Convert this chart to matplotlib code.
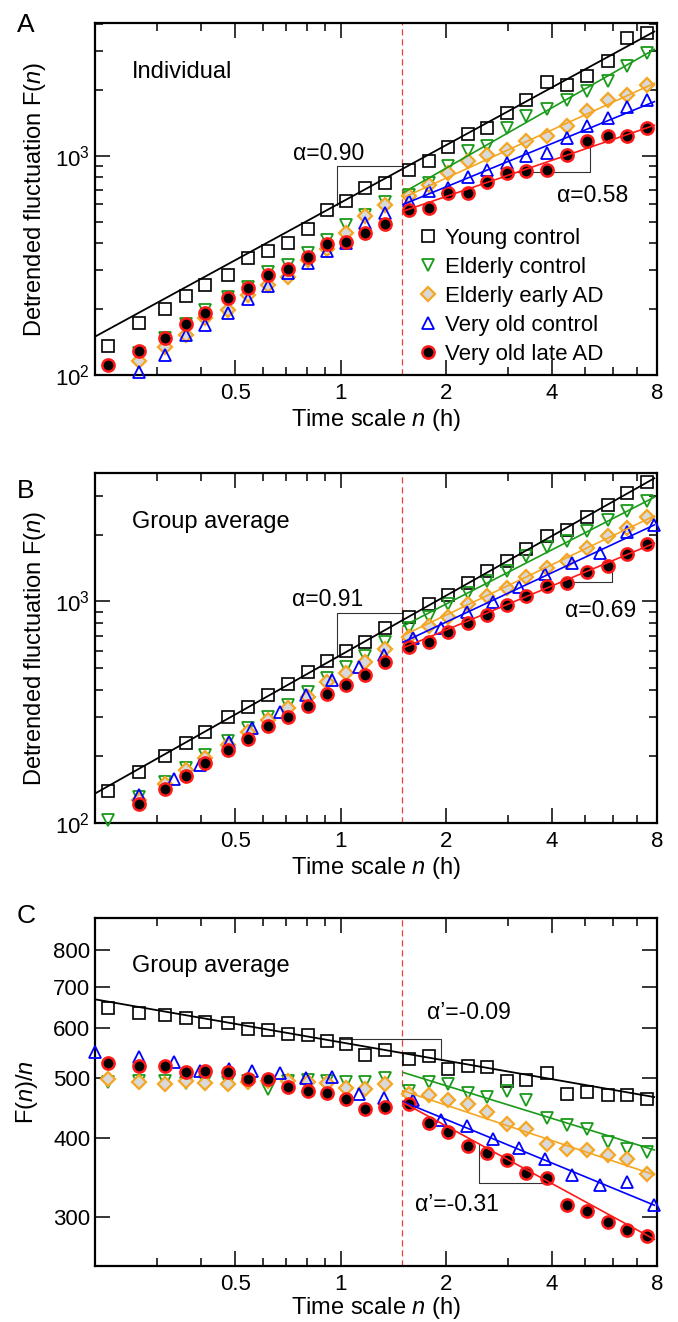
import numpy as np
import matplotlib
matplotlib.use("Agg")
import matplotlib.pyplot as plt
from matplotlib.ticker import FixedLocator, FixedFormatter, NullFormatter, NullLocator, LogLocator, LogFormatterSciNotation

plt.rcParams['font.family'] = ['Liberation Sans', 'DejaVu Sans']
plt.rcParams['mathtext.fontset'] = 'custom'
plt.rcParams['mathtext.rm'] = 'Liberation Sans'
plt.rcParams['mathtext.it'] = 'Liberation Sans:italic'
plt.rcParams['mathtext.default'] = 'regular'

# ---------------- data ----------------
n_grid = [0.217, 0.266, 0.316, 0.361, 0.411, 0.477, 0.545, 0.621, 0.707, 0.805, 0.917, 1.033, 1.176, 1.34,
          1.563, 1.784, 2.02, 2.31, 2.62, 2.99, 3.39, 3.87, 4.43, 5.06, 5.81, 6.56, 7.49]
n_blue = [0.199, 0.265, 0.334, 0.398, 0.479, 0.557, 0.670, 0.797, 0.947, 1.125, 1.33, 1.605, 1.934, 2.29,
          2.72, 3.24, 3.83, 4.59, 5.50, 6.56, 7.86]

labels = ['Young control', 'Elderly control', 'Elderly early AD', 'Very old control', 'Very old late AD']

# Panel A (individual)
A_young = [135.7, 173, 201, 229.5, 256, 287, 341, 366, 402, 462, 563, 619, 711, 750, 863, 949, 1091, 1256,
           1337, 1566, 1790, 2163, 2103, 2303, 2697, 3443, 3631]
A_green = [np.nan, 125.6, 147, 170.5, 198, 228, 253, 296, 318, 359, 413, 484, 537, 612, 664, 750, 894, 1046,
           1103, 1338, 1512, 1634, 1802, 1967, 2185, 2558, 2943]
A_orange = [np.nan, 115.8, 134.7, 152, 181, 198, 232, 258, 279, 335, 376, 443, 532, 597, 653, 737, 833, 942,
            1011, 1065, 1162, 1225, 1361, 1600, 1802, 1898, 2104]
A_blue = [np.nan, 103.6, 123, 152, 169, 191, 222, 255, 293, 323, 366, 399, 493, 547, 619, 687, 711, 804, 863,
          925, 993, 1027, 1203, 1370, 1482, 1673, 1802]
A_red = [111, 128.7, 148, 171, 191, 224, 249, 286, 304, 345, 396, 406, 444, 489, 567, 577, 676, 676, 756, 833,
         848, 857, 1011, 1162, 1225, 1234, 1338]

# Panel B (group average)
B_young = [139.6, 170.1, 201, 228.6, 256.3, 299.7, 332.6, 378.2, 422.7, 478.9, 538.9, 600, 659, 762, 855, 976,
           1071, 1210, 1367, 1517, 1725, 1982, 2109, 2408, 2738, 3090, 3454]
B_green = [102.8, 131, 153, 178, 202, 234, 269, 302, 341, 389, 450, 508, 570, 659, 757, 855, 976, 1091, 1232,
           1367, 1598, 1762, 1869, 2074, 2342, 2553, 2835]
B_orange = [np.nan, 126.6, 149.6, 173, 197, 224, 258, 291, 329, 372, 431, 473, 535, 608, 694, 771, 855, 976,
            1061, 1149, 1288, 1416, 1517, 1743, 1968, 2147, 2408]
B_blue = [np.nan, 133.4, 158.8, 182.4, 232.6, 267.2, 317.9, 378.2, 442.3, 508, 573.9, 682.4, 757.4, 891.9,
          989.7, 1161, 1334, 1491, 1654, 2052, 2223]
B_red = [np.nan, 122.3, 143, 162.6, 186.8, 213.2, 238.3, 274.8, 301.8, 338.4, 382.2, 419.8, 465.8, 535.2,
         621.5, 659.2, 731.5, 798, 870.5, 966, 1054, 1178, 1210, 1357, 1450, 1643, 1823]

# Panel C (F(n)/n, group average)
C_young = [647.7, 636, 630.5, 622.9, 614.6, 611.7, 598.3, 597, 587.5, 585.4, 573.4, 566.2, 543.8, 553.8,
           535.9, 542.5, 516.7, 523.1, 519.9, 493.8, 496.9, 509.2, 471.5, 474.3, 468.6, 468.6, 462.9]
C_green = [492, 495, 495, 491, 495, 492, 494, 479, 495, 496, 494, 492, 492, 499, 477, 492, 488, 473, 466,
           475.5, 461, 432, 420, 414, 395, 385, 381]
C_orange = [497, 492, 489.6, 495, 491, 489.6, 492, 494, 495, 492, 490, 482, 480, 489, 471.5, 468.6, 460.1,
            454.6, 440.9, 422.3, 414.7, 391.4, 385.4, 383, 376, 370.6, 350.4]
C_blue = [549.2, 539.2, 529.5, 513.5, 516.7, 513.5, 508.6, 499.4, 501, 471.5, 464, 460.1, 427.5, 418.7,
          399.8, 386.3, 370.6, 349.5, 337, 341.2, 313.1]
C_red = [528.2, 523.1, 523.1, 511.7, 513.5, 510.5, 498.1, 498.1, 483.1, 475.5, 473.2, 462.9, 445.2, 449,
         454.6, 423.9, 409.7, 388.7, 378.4, 369.3, 351.7, 345.3, 313.1, 306.3, 294.5, 285.7, 278.8]

# fitted lines: [n_start, n_end], [F_start, F_end]
fit_x_full = [0.199, 7.9]
fit_x_long = [1.5, 7.9]
A_fit = {'young': [149.6, 3700], 'green': [675, 3069], 'orange': [641, 2147], 'blue': [597.5, 1770], 'red': [557, 1380]}
B_fit = {'young': [135.8, 3614], 'green': [770.6, 2965], 'orange': [699, 2441], 'blue': [652.5, 2223], 'red': [615, 1837]}
C_fit = {'young': [667.7, 465.6], 'green': [510.5, 383], 'orange': [477.2, 349.5], 'blue': [458.4, 312.4], 'red': [457.2, 275.4]}

# slope triangles
A_tri1 = ([0.978, 0.978, 1.5], [595, 900, 900])
A_tri2 = ([3.18, 5.15, 5.15], [839, 839, 1091])
B_tri1 = ([0.978, 0.978, 1.5], [561, 891, 891])
B_tri2 = ([4.24, 5.97, 5.97], [1219, 1219, 1530])
C_tri1 = ([1.0, 1.94, 1.94], [578, 578, 534.5])
C_tri2 = ([2.49, 2.49, 4.0], [391, 339, 339])

# annotations: (text, n, F)
A_notes = [('α=0.90', 0.927, 1021), ('α=0.58', 5.23, 659)]
B_notes = [('α=0.91', 0.919, 1017), ('α=0.69', 5.53, 910)]
C_notes = [('α’=-0.09', 2.33, 636), ('α’=-0.31', 2.146, 313)]

crossover = 1.5

# ---------------- style ----------------
GREEN = '#1a9a1a'
ORANGE = '#f5a623'
BLUE = '#0000ff'
RED = '#ff1a1a'

styles = {
    'young': dict(marker='s', ms=8.5, mfc='none', mec='black', mew=1.2, color='black'),
    'green': dict(marker='v', ms=9.2, mfc='none', mec=GREEN, mew=1.3, color=GREEN),
    'orange': dict(marker='D', ms=6.8, mfc='#d9d9d9', mec=ORANGE, mew=1.6, color=ORANGE),
    'blue': dict(marker='^', ms=9.2, mfc='none', mec=BLUE, mew=1.3, color=BLUE),
    'red': dict(marker='o', ms=8.8, mfc='black', mec=RED, mew=1.8, color=RED),
}
order = ['young', 'green', 'orange', 'blue', 'red']

W, H = 678, 1322
fig = plt.figure(figsize=(W / 100, H / 100), dpi=100)


def add_axes(top, bottom, left=95, right=657):
    return fig.add_axes([left / W, 1 - bottom / H, (right - left) / W, (bottom - top) / H])


axA = add_axes(23, 375)
axB = add_axes(473, 823)
axC = add_axes(918, 1266)


def draw_panel(ax, data, fits, tris, notes, ylim, is_c=False):
    handles = []
    for key in order:
        xs, ys = data[key]
        st = styles[key]
        h, = ax.plot(xs, ys, linestyle='none', marker=st['marker'], ms=st['ms'], mfc=st['mfc'],
                     mec=st['mec'], mew=st['mew'], clip_on=False, zorder=3)
        handles.append(h)
    for key in order:
        fx = fit_x_full if key == 'young' else fit_x_long
        ax.plot(fx, fits[key], color=styles[key]['color'], lw=1.3 if key == 'young' else 1.2, zorder=4,
                solid_capstyle='butt')
    for tx, ty in tris:
        ax.plot(tx, ty, color='#333333', lw=0.8, zorder=2)
    for txt, nx, ny in notes:
        ax.text(nx, ny, txt, ha='center', va='center', fontsize=16.5)
    ax.axvline(crossover, color='#e8413c', lw=0.9, linestyle=(0, (5, 3)), zorder=1)

    ax.set_xscale('log')
    ax.set_yscale('log')
    ax.set_xlim(0.199, 8.0)
    ax.set_ylim(*ylim)
    ax.xaxis.set_major_locator(FixedLocator([0.5, 1, 2, 4, 8]))
    ax.xaxis.set_major_formatter(FixedFormatter(['0.5', '1', '2', '4', '8']))
    ax.xaxis.set_minor_locator(FixedLocator([0.3, 0.4, 0.6, 0.7, 0.8, 0.9, 3, 5, 6, 7]))
    ax.xaxis.set_minor_formatter(NullFormatter())
    if is_c:
        ax.yaxis.set_major_locator(FixedLocator([300, 400, 500, 600, 700, 800]))
        ax.yaxis.set_major_formatter(FixedFormatter(['300', '400', '500', '600', '700', '800']))
        ax.yaxis.set_minor_locator(NullLocator())
    else:
        ax.yaxis.set_major_locator(LogLocator(base=10))
        ax.yaxis.set_major_formatter(LogFormatterSciNotation())
        ax.yaxis.set_minor_locator(LogLocator(base=10, subs=np.arange(2, 10)))
        ax.yaxis.set_minor_formatter(NullFormatter())
    ax.tick_params(which='both', direction='in', top=True, right=True, width=1.1, labelsize=16)
    ax.tick_params(which='major', length=10.5)
    ax.tick_params(which='minor', length=5.5)
    ax.tick_params(axis='x', which='major', pad=5.5)
    ax.tick_params(axis='y', which='major', pad=3.5)
    for sp in ax.spines.values():
        sp.set_linewidth(1.6)
    ax.set_xlabel('Time scale $\\mathit{n}$ (h)', fontsize=17)
    ax.xaxis.set_label_coords(0.5, -0.083 if is_c else -0.091)
    return handles


dataA = {'young': (n_grid, A_young), 'green': (n_grid, A_green), 'orange': (n_grid, A_orange),
         'blue': (n_grid, A_blue), 'red': (n_grid, A_red)}
dataB = {'young': (n_grid, B_young), 'green': (n_grid, B_green), 'orange': (n_grid, B_orange),
         'blue': (n_blue, B_blue), 'red': (n_grid, B_red)}
dataC = {'young': (n_grid, C_young), 'green': (n_grid, C_green), 'orange': (n_grid, C_orange),
         'blue': (n_blue, C_blue), 'red': (n_grid, C_red)}

hA = draw_panel(axA, dataA, A_fit, [A_tri1, A_tri2], A_notes, (100, 4030))
draw_panel(axB, dataB, B_fit, [B_tri1, B_tri2], B_notes, (100, 3800))
draw_panel(axC, dataC, C_fit, [C_tri1, C_tri2], C_notes, (250, 901), is_c=True)

for ax in (axA, axB):
    ax.set_ylabel('Detrended fluctuation F($\\mathit{n}$)', fontsize=17)
    ax.yaxis.set_label_coords(-0.084, 0.5)
axC.set_ylabel('F($\\mathit{n}$)/$\\mathit{n}$', fontsize=17)
axC.yaxis.set_label_coords(-0.098, 0.5)

axA.text(0.066, 0.862, 'Individual', transform=axA.transAxes, ha='left', va='center', fontsize=17)
axB.text(0.066, 0.860, 'Group average', transform=axB.transAxes, ha='left', va='center', fontsize=17)
axC.text(0.066, 0.861, 'Group average', transform=axC.transAxes, ha='left', va='center', fontsize=17)

axA.legend(hA, labels, loc='upper left', bbox_to_anchor=(0.575, 0.419), frameon=False, fontsize=16,
           handlelength=0.9, handletextpad=0.3, borderpad=0, borderaxespad=0, labelspacing=0.36,
           numpoints=1)

for letter, yb in (('A', 32), ('B', 498), ('C', 923)):
    fig.text(17 / W, 1 - yb / H, letter, fontsize=19, ha='left', va='baseline')

fig.savefig('out.png', dpi=100)
